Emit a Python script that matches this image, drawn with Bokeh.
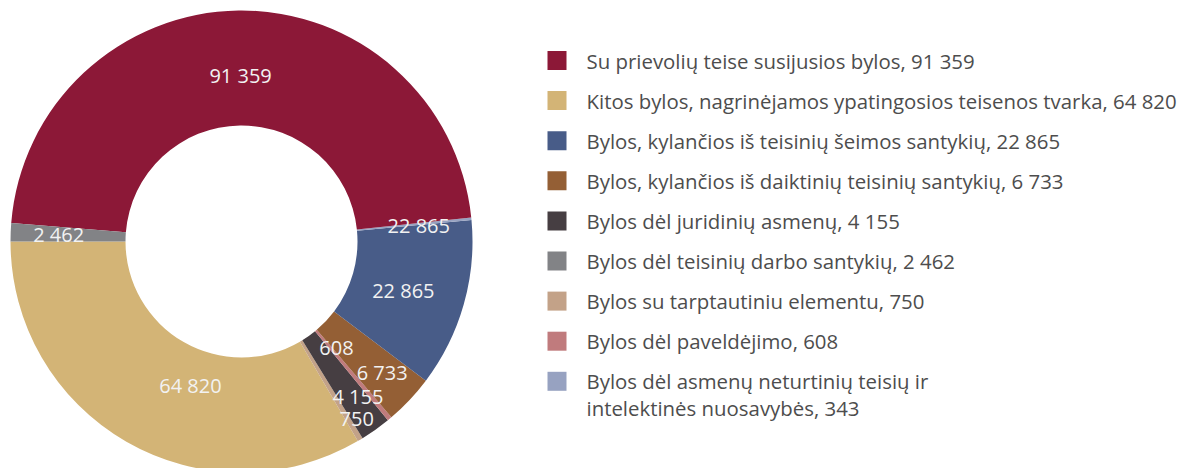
import math
from bokeh.plotting import figure
from bokeh.models import Range1d, ColumnDataSource
from bokeh.core.properties import value
from bokeh.embed import file_html
from bokeh.resources import INLINE

# ---- data ----
legend_labels = [
    "Su prievolių teise susijusios bylos, 91 359",
    "Kitos bylos, nagrinėjamos ypatingosios teisenos tvarka, 64 820",
    "Bylos, kylančios iš teisinių šeimos santykių, 22 865",
    "Bylos, kylančios iš daiktinių teisinių santykių, 6 733",
    "Bylos dėl juridinių asmenų, 4 155",
    "Bylos dėl teisinių darbo santykių, 2 462",
    "Bylos su tarptautiniu elementu, 750",
    "Bylos dėl paveldėjimo, 608",
    "Bylos dėl asmenų neturtinių teisių ir\nintelektinės nuosavybės, 343",
]
legend_values = [91359, 64820, 22865, 6733, 4155, 2462, 750, 608, 343]
legend_colors = ["#8C1837", "#D3B476", "#485C88", "#945F35", "#463E42",
                 "#828386", "#C3A288", "#C07B7D", "#97A2C1"]

# ring order (anticlockwise from 9 o'clock)
ring_order = [1, 6, 4, 7, 3, 2, 8, 0, 5]
# slice labels as shown in the chart
ring_label_text = ["64 820", "750", "4 155", "608", "6 733", "22 865", "22 865", "91 359", "2 462"]

# ---- layout ----
W, H = 1195, 468
p = figure(width=W, height=H, output_backend="svg", toolbar_location=None,
           x_range=Range1d(0, W), y_range=Range1d(0, H), min_border=0)
p.axis.visible = False
p.grid.visible = False
p.outline_line_color = None
p.background_fill_color = "white"
p.border_fill_color = "white"

def sy(y):
    return H - y

cx, cy = 241, sy(241)
r_out, r_in = 231, 116

vals = [legend_values[i] for i in ring_order]
cols = [legend_colors[i] for i in ring_order]
total = sum(vals)
starts, ends, mids = [], [], []
a = math.pi
for v in vals:
    s = a
    e = a + 2 * math.pi * v / total
    starts.append(s); ends.append(e); mids.append((s + e) / 2)
    a = e

src = ColumnDataSource(dict(x=[cx] * len(vals), y=[cy] * len(vals),
                            start=starts, end=ends, color=cols))
p.annular_wedge(x="x", y="y", inner_radius=r_in, outer_radius=r_out,
                start_angle="start", end_angle="end", fill_color="color",
                line_color=None, source=src)

FONT = value("Open Sans")
# label placement tweaks (radius, angle offset in degrees)
lab_r = [153, 212, 194, 143, 192, 169, 178, 166, 183]
lab_da = [10.4, 2.0, 1.4, 1.7, 0.4, -0.9, -0.4, -0.4, 0.0]
lx = [cx + r * math.cos(m + math.radians(d)) for r, m, d in zip(lab_r, mids, lab_da)]
ly = [cy + r * math.sin(m + math.radians(d)) for r, m, d in zip(lab_r, mids, lab_da)]
p.text(x=lx, y=ly, text=ring_label_text, text_align="center", text_baseline="middle",
       text_color="#F2F2F2", text_font_size="20px", text_font=FONT)

# legend
row_y = [sy(60 + 40.1 * i) for i in range(len(legend_labels))]
p.rect(x=[556.5] * len(row_y), y=row_y, width=19, height=19, fill_color=legend_colors,
       line_color=None)
first_lines = [t.split("\n")[0] for t in legend_labels]
p.text(x=[586] * len(row_y), y=row_y, text=first_lines, text_align="left",
       text_baseline="middle", text_color="#4D4D4D", text_font_size="20.4px",
       text_font=FONT)
second = [(i, t.split("\n")[1]) for i, t in enumerate(legend_labels) if "\n" in t]
p.text(x=[586] * len(second), y=[row_y[i] - 27 for i, _ in second],
       text=[t for _, t in second], text_align="left", text_baseline="middle",
       text_color="#4D4D4D", text_font_size="20.4px", text_font=FONT)

open("out.html", "w").write(file_html(p, INLINE))
